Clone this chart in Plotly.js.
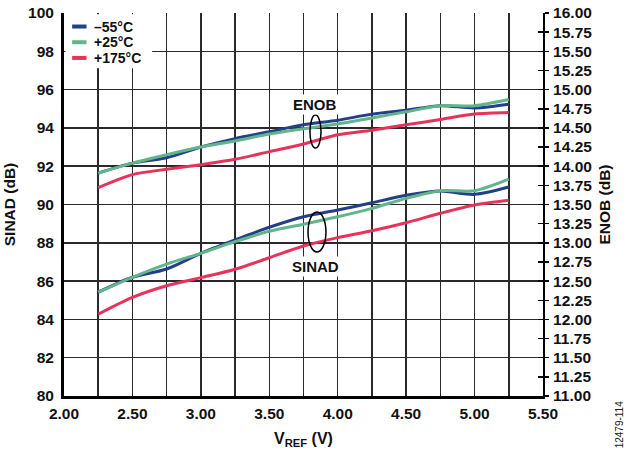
<!DOCTYPE html>
<html>
<head>
<meta charset="utf-8">
<script src="https://cdn.plot.ly/plotly-3.0.1.min.js"></script>
<style>
  html, body { margin: 0; padding: 0; background: #fff; }
  #chart { width: 626px; height: 454px; }
</style>
</head>
<body>
<div id="chart"></div>
<script>
// ---- data ----
const vref = [2.25, 2.50, 2.75, 3.00, 3.25, 3.50, 3.75, 4.00, 4.25, 4.50, 4.75, 5.00, 5.25];

const seriesNames = ['\u201355\u00B0C', '+25\u00B0C', '+175\u00B0C'];
const seriesColors = ['#233f88', '#62b58b', '#e6335b'];

// SINAD (dB), left axis
const sinadM55  = [85.42, 86.20, 86.63, 87.45, 88.15, 88.81, 89.36, 89.71, 90.09, 90.48, 90.70, 90.53, 90.91];
const sinadP25  = [85.42, 86.20, 86.89, 87.45, 88.06, 88.60, 88.97, 89.36, 89.80, 90.32, 90.72, 90.72, 91.32];
const sinadP175 = [84.27, 85.15, 85.76, 86.18, 86.62, 87.22, 87.83, 88.27, 88.63, 89.05, 89.54, 89.97, 90.22];

// ENOB (bits), right axis
const enobM55  = [13.91, 14.04, 14.11, 14.25, 14.36, 14.45, 14.54, 14.60, 14.68, 14.73, 14.79, 14.76, 14.81];
const enobP25  = [13.91, 14.04, 14.15, 14.25, 14.33, 14.42, 14.49, 14.55, 14.63, 14.71, 14.79, 14.79, 14.87];
const enobP175 = [13.72, 13.89, 13.96, 14.02, 14.09, 14.19, 14.29, 14.41, 14.47, 14.54, 14.61, 14.68, 14.70];

const sinadSeries = [sinadM55, sinadP25, sinadP175];
const enobSeries = [enobM55, enobP25, enobP175];

// ---- build ----
const FONT = 'Arial, "Liberation Sans", Helvetica, sans-serif';
const traces = [];
sinadSeries.forEach((ys, i) => {
  traces.push({
    x: vref, y: ys, type: 'scatter', mode: 'lines',
    name: seriesNames[i], legendgroup: 'g' + i,
    line: { color: seriesColors[i], width: 3, shape: 'spline', smoothing: 0.8 },
    xaxis: 'x', yaxis: 'y', hoverinfo: 'skip'
  });
});
enobSeries.forEach((ys, i) => {
  traces.push({
    x: vref, y: ys, type: 'scatter', mode: 'lines',
    name: seriesNames[i], legendgroup: 'g' + i,
    line: { color: seriesColors[i], width: 3, shape: 'spline', smoothing: 0.8 },
    xaxis: 'x', yaxis: 'y2', hoverinfo: 'skip'
  });
});
// carries the inward half of the right-axis tick marks
traces.push({ x: [], y: [], type: 'scatter', mode: 'lines', xaxis: 'x', yaxis: 'y3',
  showlegend: false, hoverinfo: 'skip' });

const GRID = '#2a2a2a';
const tickFont = { family: FONT, size: 15.5, color: '#111', weight: 'bold' };
const titleFont = { family: FONT, size: 15.5, color: '#111', weight: 'bold' };

// legend drawn inside the plot (short line samples, tight rows)
const legendShapes = [
  { type: 'rect', xref: 'paper', yref: 'paper', x0: 0.003, x1: 0.184, y0: 0.856, y1: 0.997,
    fillcolor: '#fff', line: { width: 0 }, layer: 'above' }
];
const legendAnn = [];
const rowY = [0.9647, 0.9237, 0.8827];
seriesNames.forEach((nm, i) => {
  legendShapes.push({ type: 'line', xref: 'paper', yref: 'paper', x0: 0.017, x1: 0.047,
    y0: rowY[i], y1: rowY[i], line: { color: seriesColors[i], width: 4 } });
  legendAnn.push({ text: nm, xref: 'paper', yref: 'paper', x: 0.06, y: rowY[i],
    xanchor: 'left', yanchor: 'middle', showarrow: false, borderpad: 0,
    font: { family: FONT, size: 14, color: '#111', weight: 'bold' } });
});

const layout = {
  width: 626, height: 454,
  margin: { l: 64, r: 83, t: 13, b: 58 },
  paper_bgcolor: '#fff', plot_bgcolor: '#fff',
  showlegend: false,
  xaxis: {
    range: [2, 5.5], dtick: 0.5, tick0: 2, tickformat: '.2f',
    showgrid: true, gridcolor: GRID, gridwidth: 1.5,
    minor: { dtick: 0.25, showgrid: true, gridcolor: GRID, gridwidth: 1.5 },
    showline: true, linecolor: '#000', linewidth: 2.5,
    ticks: '', tickfont: tickFont, zeroline: false, ticklabelstandoff: 2,
    title: { text: 'V<sub>REF</sub> (V)', font: { family: FONT, size: 16, color: '#111', weight: 'bold' }, standoff: 12 }
  },
  yaxis: {
    range: [80, 100], dtick: 2, tick0: 80,
    showgrid: true, gridcolor: GRID, gridwidth: 1.5,
    showline: true, linecolor: '#000', linewidth: 3,
    ticks: '', tickfont: tickFont, zeroline: false, ticklabelstandoff: 4,
    title: { text: 'SINAD (dB)', font: titleFont, standoff: 9 }
  },
  yaxis2: {
    overlaying: 'y', side: 'right', anchor: 'x',
    range: [11, 16], dtick: 0.25, tick0: 11, tickformat: '.2f',
    showgrid: false, showline: true, linecolor: '#000', linewidth: 2,
    ticks: 'outside', ticklen: 4, tickwidth: 1.5, tickcolor: '#000',
    tickfont: tickFont, zeroline: false, ticklabelstandoff: 1,
    title: { text: 'ENOB (dB)', font: titleFont, standoff: 8 }
  },
  yaxis3: {
    overlaying: 'y', side: 'right', anchor: 'x',
    range: [11, 16], dtick: 0.25, tick0: 11,
    showgrid: false, showline: false, zeroline: false,
    ticks: 'inside', ticklen: 5, tickwidth: 1.5, tickcolor: '#000',
    showticklabels: false
  },
  shapes: legendShapes.concat([
    { type: 'circle', xref: 'x', yref: 'y', x0: 3.797, x1: 3.878, y0: 92.95, y1: 94.67,
      line: { color: '#000', width: 1.5 } },
    { type: 'circle', xref: 'x', yref: 'y', x0: 3.783, x1: 3.914, y0: 87.52, y1: 89.61,
      line: { color: '#000', width: 1.5 } }
  ]),
  annotations: legendAnn.concat([
    { text: 'ENOB', xref: 'x', yref: 'y', x: 3.834, y: 95.2, showarrow: false,
      bgcolor: '#fff', borderpad: 1,
      font: { family: FONT, size: 15, color: '#111', weight: 'bold' } },
    { text: 'SINAD', xref: 'x', yref: 'y', x: 3.834, y: 86.74, showarrow: false,
      bgcolor: '#fff', borderpad: 1,
      font: { family: FONT, size: 15, color: '#111', weight: 'bold' } },
    { text: '12479-114', xref: 'paper', yref: 'paper', x: 1.16, y: -0.075,
      xanchor: 'center', yanchor: 'middle', textangle: -90, showarrow: false,
      font: { family: FONT, size: 10, color: '#222' } }
  ])
};

Plotly.newPlot('chart', traces, layout, { staticPlot: true, displayModeBar: false });
</script>
</body>
</html>
